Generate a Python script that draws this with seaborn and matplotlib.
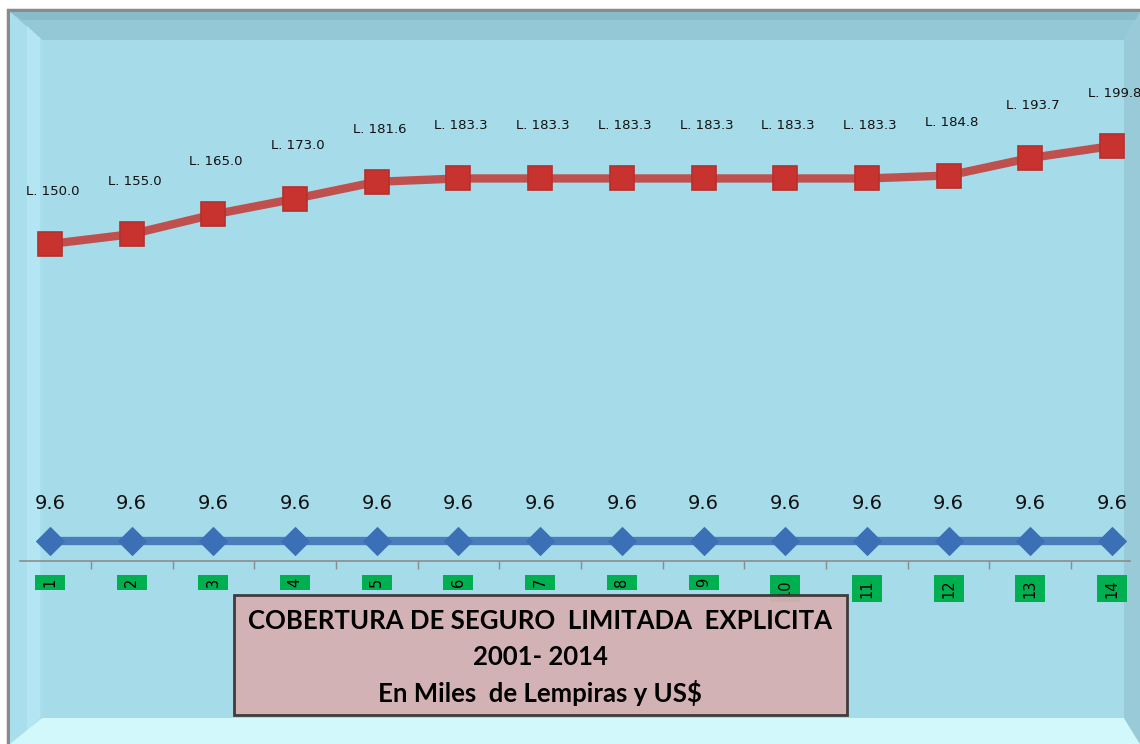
from matplotlib import pyplot as plt
from matplotlib.patches import Polygon, Rectangle
import matplotlib.transforms as mtransforms
import pandas as pd
import seaborn as sns
import numpy as np

# Data
categorias = [1, 2, 3, 4, 5, 6, 7, 8, 9, 10, 11, 12, 13, 14]
lempiras = [150.0, 155.0, 165.0, 173.0, 181.6, 183.3, 183.3, 183.3, 183.3, 183.3, 183.3, 184.8, 193.7, 199.8]
dolares = [9.6, 9.6, 9.6, 9.6, 9.6, 9.6, 9.6, 9.6, 9.6, 9.6, 9.6, 9.6, 9.6, 9.6]
titulo = ["COBERTURA DE SEGURO  LIMITADA  EXPLICITA", "2001- 2014", "En Miles  de Lempiras y US$"]

df = pd.DataFrame({"cat": categorias, "lps": lempiras, "usd": dolares})

W, H = 1140, 744
fig = plt.figure(figsize=(W / 100, H / 100), dpi=100)
fig.patch.set_facecolor("white")

# Background with bevel frame (pixel coords)
bg = fig.add_axes([0, 0, 1, 1])
bg.set_xlim(0, W)
bg.set_ylim(H, 0)
bg.axis("off")
bg.add_patch(Rectangle((8, 10), W, H, facecolor="#a6dbe9", edgecolor="#8a8a8a", lw=2.5))
bg.add_patch(Polygon([(10, 12), (W, 12), (W - 16, 40), (42, 40)], closed=True, facecolor="#95c8d6", lw=0))
bg.add_patch(Polygon([(10, 12), (W, 12), (W - 4, 20), (22, 20)], closed=True, facecolor="#89bccb", lw=0))
bg.add_patch(Polygon([(10, 12), (42, 40), (42, 718), (10, H)], closed=True, facecolor="#a9dfec", lw=0))
bg.add_patch(Polygon([(27, 26), (40, 38), (40, 718), (27, 731)], closed=True, facecolor="#b3e6f2", lw=0))
bg.add_patch(Polygon([(10, H), (42, 718), (W - 16, 718), (W, H)], closed=True, facecolor="#d2f8fc", lw=0))
bg.add_patch(Polygon([(W, 12), (W - 16, 40), (W - 16, 718), (W, H)], closed=True, facecolor="#98cad8", lw=0))
bg.add_patch(Rectangle((42, 40), W - 58, 678, facecolor="#a6dbe9", lw=0))

# Main axes: x from px 20 to 1130, y from px 40 to 561
x0, x1 = 20, 1130
ytop, ybot = 40, 561
ax = fig.add_axes([x0 / W, 1 - ybot / H, (x1 - x0) / W, (ybot - ytop) / H])
ax.patch.set_alpha(0)
pxu = (1112 - 50) / 13.0
ax.set_xlim(1 - (50 - x0) / pxu, 14 + (x1 - 1112) / pxu)
s = 1.968
ax.set_ylim(150 - (ybot - 244) / s, 150 + (244 - ytop) / s)

ax2 = ax.twinx()
ax2.patch.set_alpha(0)
ax2.set_ylim(9.6 - (ybot - 541) / s, 9.6 + (541 - ytop) / s)

sns.lineplot(data=df, x="cat", y="lps", ax=ax, color="#c0504d", lw=6,
             marker="s", markersize=17, markerfacecolor="#c9332f", markeredgecolor="#b5302c",
             markeredgewidth=1.2, zorder=3)
sns.lineplot(data=df, x="cat", y="usd", ax=ax2, color="#4a7ebb", lw=6,
             marker="D", markersize=14, markerfacecolor="#3b6fb6", markeredgecolor="#3b6fb6", zorder=3)

for a in (ax, ax2):
    a.set_xlabel("")
    a.set_ylabel("")
    a.set_yticks([])
    for sp in a.spines.values():
        sp.set_visible(False)

ax2.set_xticks([])
ax.spines["bottom"].set_visible(True)
ax.spines["bottom"].set_color("#8c8c8c")
ax.spines["bottom"].set_linewidth(1.2)
ax.set_xticks(np.arange(1.5, 14, 1.0))
ax.set_xticklabels([])
ax.tick_params(axis="x", length=6, color="#8c8c8c", width=1)

# Category labels in green boxes
trans = mtransforms.blended_transform_factory(ax.transData, bg.transData)
bw = 30 / pxu
for c in categorias:
    alto = 15 if c < 10 else 27
    ax.add_patch(Rectangle((c - bw / 2, 575), bw, alto, transform=trans, facecolor="#00b050",
                           edgecolor="none", zorder=2, clip_on=False))
    ax.text(c, 575 + alto / 2, str(c), transform=trans, rotation=90, ha="center", va="center",
            fontsize=10.5, color="black", family="DejaVu Sans", zorder=2.5)

# Data labels
for c, v in zip(categorias, lempiras):
    ax.annotate("L. {0:.1f}".format(v), xy=(c, v), xytext=(2, 38), textcoords="offset points",
                ha="center", va="center", fontsize=9.5, color="#111111", family="DejaVu Sans",
                annotation_clip=False)
for c, v in zip(categorias, dolares):
    ax2.annotate("{0:.1f}".format(v), xy=(c, v), xytext=(0, 27), textcoords="offset points",
                 ha="center", va="center", fontsize=14, color="#111111", family="DejaVu Sans")

# Title box
tb = fig.add_axes([0, 0, 1, 1])
tb.set_xlim(0, W)
tb.set_ylim(H, 0)
tb.axis("off")
tb.patch.set_alpha(0)
tb.add_patch(Rectangle((234, 595), 613, 120, facecolor="#d6b0b3", edgecolor="#3a3434", lw=2, alpha=0.95))
for i, linea in enumerate(titulo):
    tb.text(540, 621 + i * 36, linea, ha="center", va="center", fontsize=18.5,
            fontweight="bold", family="Lato", color="black")

fig.savefig("out.png", dpi=100)
